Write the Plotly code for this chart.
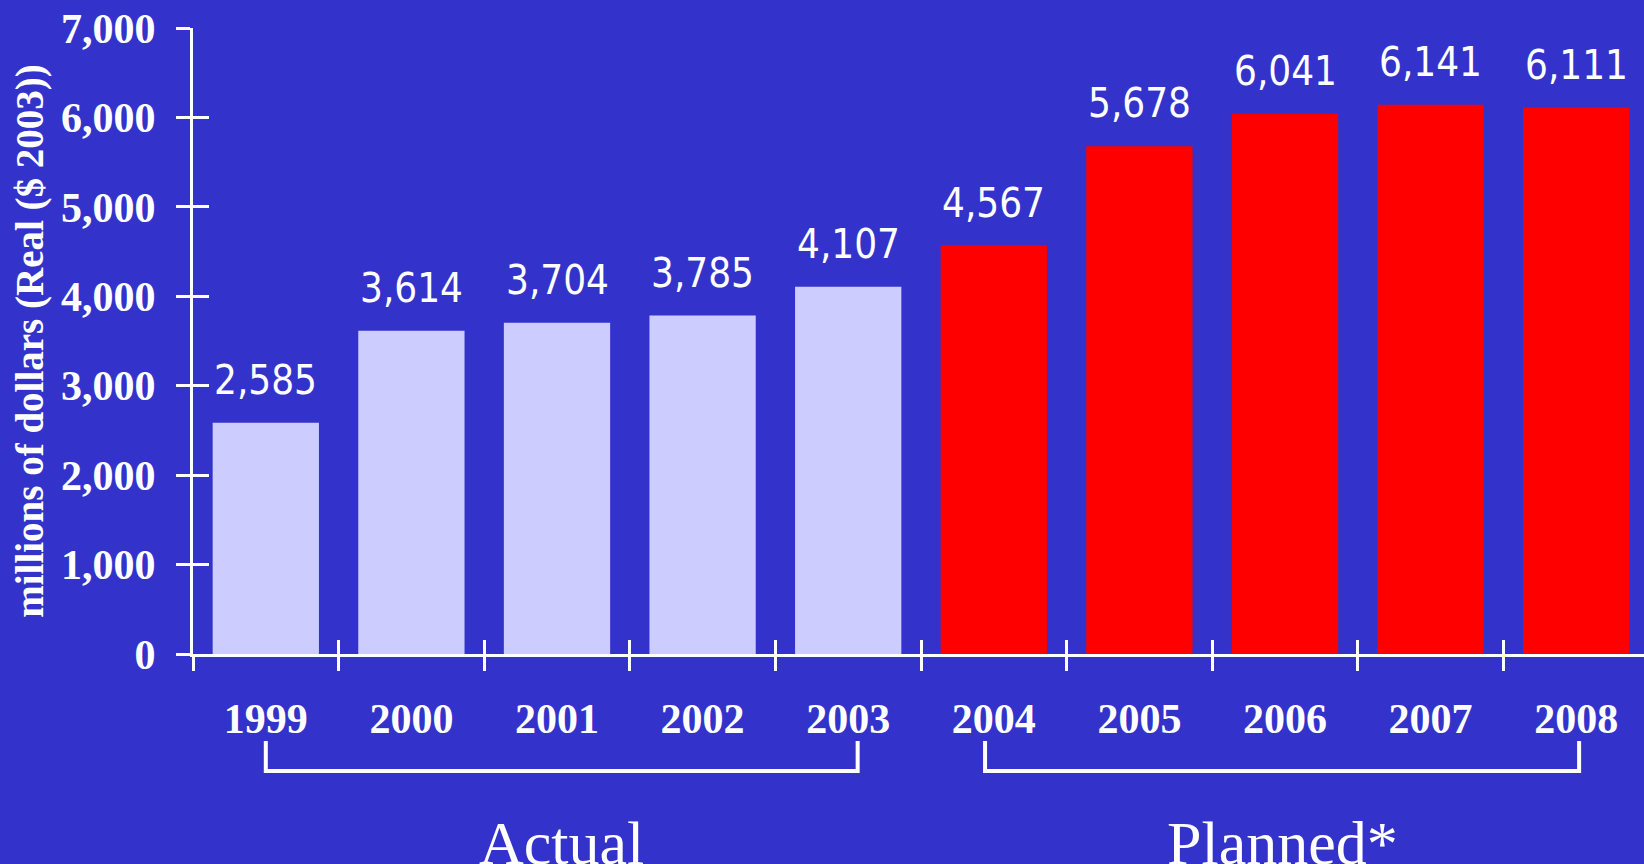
import plotly.graph_objects as go

years = ["1999", "2000", "2001", "2002", "2003", "2004", "2005", "2006", "2007", "2008"]
values = [2585, 3614, 3704, 3785, 4107, 4567, 5678, 6041, 6141, 6111]
status = ["Actual"] * 5 + ["Planned"] * 5
groups = ["Actual", "Planned*"]
y_ticks = [0, 1000, 2000, 3000, 4000, 5000, 6000, 7000]

BG = "#3333CC"
LIGHT = "#CCCCFF"
RED = "#FF0000"
WHITE = "#FFFFFF"
SERIF = "Liberation Serif, Times New Roman, serif"
NARROW = "Liberation Sans Narrow, DejaVu Sans Condensed, Arial Narrow, sans-serif"

n = len(years)
idx = list(range(n))
colors = [LIGHT if s == "Actual" else RED for s in status]

fig = go.Figure()
fig.add_trace(go.Bar(x=idx, y=values, marker=dict(color=colors, line=dict(width=0)),
                     width=0.73, hoverinfo="skip", showlegend=False))
# invisible helper traces so the overlay axes (crossing ticks) render
fig.add_trace(go.Scatter(x=idx, y=values, xaxis="x2", yaxis="y2", mode="markers",
                         marker=dict(opacity=0), hoverinfo="skip", showlegend=False))
fig.add_trace(go.Scatter(x=idx, y=values, xaxis="x3", yaxis="y", mode="markers",
                         marker=dict(opacity=0), hoverinfo="skip", showlegend=False))

xr = [-0.5, -0.5 + 1451 / 145.6]
bounds = [i - 0.5 for i in range(n + 1)]

fig.update_layout(
    width=1644, height=864, autosize=False,
    margin=dict(l=193, r=0, t=28, b=210),
    paper_bgcolor=BG, plot_bgcolor=BG,
    xaxis=dict(range=xr, tickmode="array", tickvals=idx, ticktext=years,
               showgrid=False, zeroline=False, showline=True, linecolor=WHITE, linewidth=3,
               ticks="", tickfont=dict(family=SERIF, size=42, color=WHITE, weight="bold"),
               ticklabelstandoff=26),
    xaxis2=dict(range=xr, overlaying="x", anchor="y", side="bottom", tickmode="array",
                tickvals=bounds, showticklabels=False, showgrid=False, zeroline=False,
                showline=False, ticks="outside", ticklen=16, tickwidth=3, tickcolor=WHITE),
    xaxis3=dict(range=xr, overlaying="x", anchor="y", side="bottom", tickmode="array",
                tickvals=bounds, showticklabels=False, showgrid=False, zeroline=False,
                showline=False, ticks="inside", ticklen=14, tickwidth=3, tickcolor=WHITE),
    yaxis=dict(range=[0, 7000], tickmode="array", tickvals=y_ticks,
               ticktext=[f"{v:,}" for v in y_ticks],
               showgrid=False, zeroline=False, showline=True, linecolor=WHITE, linewidth=3,
               ticks="outside", ticklen=14, tickwidth=3, tickcolor=WHITE,
               tickfont=dict(family=SERIF, size=42, color=WHITE, weight="bold"),
               ticklabelstandoff=12,
               title=dict(text="millions of dollars (Real ($ 2003))",
                          font=dict(family=SERIF, size=39, color=WHITE, weight="bold"),
                          standoff=6)),
    yaxis2=dict(range=[0, 7000], overlaying="y", anchor="x", side="left", tickmode="array",
                tickvals=y_ticks, showticklabels=False, showgrid=False, zeroline=False,
                showline=False, ticks="inside", ticklen=16, tickwidth=3, tickcolor=WHITE),
)

# value labels
for i, v in zip(idx, values):
    fig.add_annotation(x=i, y=v, text=f"{v:,}", showarrow=False, xref="x", yref="y",
                       yanchor="bottom", yshift=18,
                       font=dict(family=NARROW, size=40, color=WHITE))

# group brackets and labels
for g, key, (dl, dr) in zip(groups, ["Actual", "Planned"], [(0.0, 0.065), (-0.06, 0.02)]):
    members = [i for i, s in zip(idx, status) if s == key]
    x0, x1 = min(members) + dl, max(members) + dr
    fig.add_shape(type="path", xref="x", yref="paper",
                  path=f"M {x0},{-0.139} L {x0},{-0.187} L {x1},{-0.187} L {x1},{-0.139}",
                  line=dict(color=WHITE, width=4))
    fig.add_annotation(x=(x0 + x1) / 2, y=-0.36, xref="x", yref="paper", text=g,
                       showarrow=False, yanchor="bottom",
                       font=dict(family=SERIF, size=62, color=WHITE))

fig.write_html("out.html")
